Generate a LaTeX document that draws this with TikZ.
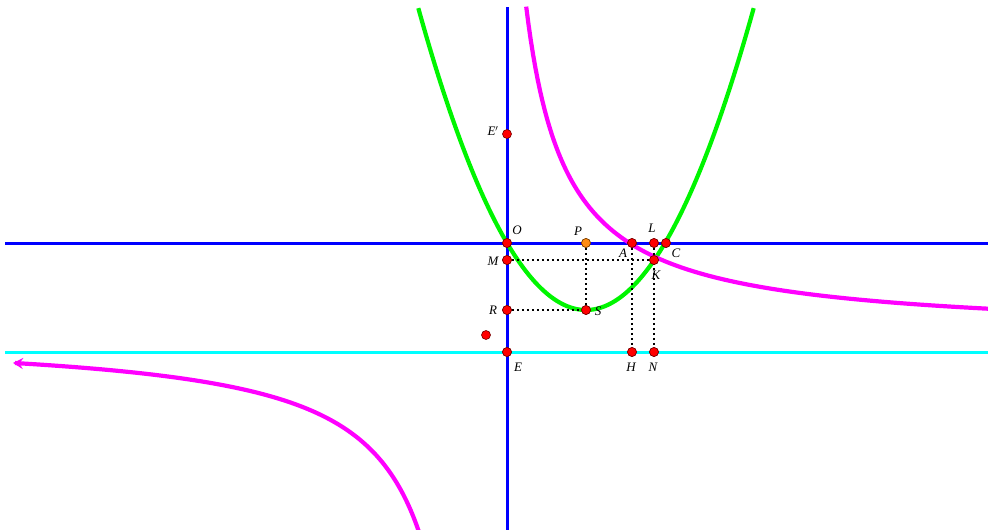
\documentclass[tikz,border=0pt]{standalone}
\usepackage{fontspec}
\setmainfont{Liberation Serif}
\usetikzlibrary{arrows.meta}
\begin{document}
\begin{tikzpicture}[x=1pt,y=-1pt,
  pt/.style={circle,fill=red,draw=red!45!black,line width=0.6pt,inner sep=0pt,minimum size=9pt},
  ptor/.style={pt,fill={rgb,255:red,255;green,140;blue,20},draw={rgb,255:red,120;green,60;blue,0}},
  lab/.style={font=\fontsize{13}{15}\selectfont\itshape,inner sep=1pt},
  axisline/.style={draw={rgb,255:red,0;green,0;blue,255},line width=3pt},
  cyanline/.style={draw={rgb,255:red,0;green,255;blue,255},line width=3pt},
  parab/.style={draw={rgb,255:red,0;green,245;blue,0},line width=4.2pt},
  hyper/.style={draw={rgb,255:red,255;green,0;blue,255},line width=4.2pt},
  guide/.style={draw=black,line width=2.2pt,dash pattern=on 2.2pt off 2.8pt}]
\useasboundingbox (0,0) rectangle (988,530);
\clip (0,0) rectangle (988,530);
% axes and line
\coordinate (xl) at (5,243);
\coordinate (xr) at (988,243);
\coordinate (yt) at (507,7);
\coordinate (yb) at (507,530);
\coordinate (cl) at (5,352);
\coordinate (cr) at (988,352);
\draw[axisline] (xl) -- (xr);
\draw[axisline] (yt) -- (yb);
\draw[cyanline] (cl) -- (cr);
% parabola
\draw[parab] plot[domain=418.3:753.7,samples=120] (\x,{310-1.0735*((\x-586)/10)^2});
% hyperbola branches
\draw[hyper] plot[domain=526.2:988,samples=200] (\x,{335-13200/(\x-486)});
\draw[hyper,{Stealth[length=10pt,width=11pt,inset=3.5pt]}-] plot[domain=13:419,samples=200] (\x,{335+13200/(486-\x)});
% points
\node[pt] (O) at (507,243) {};
\node[ptor] (P) at (586,243) {};
\node[pt] (A) at (632,243) {};
\node[pt] (L) at (654,243) {};
\node[pt] (C) at (666,243) {};
\node[pt] (M) at (507,260) {};
\node[pt] (K) at (654,260) {};
\node[pt] (R) at (507,310) {};
\node[pt] (S) at (586,310) {};
\node[pt] (E) at (507,352) {};
\node[pt] (H) at (632,352) {};
\node[pt] (N) at (654,352) {};
\node[pt] (Ep) at (507,134) {};
\node[pt] (Z) at (486,335) {};
% dotted guides
\draw[guide] (M) -- (K);
\draw[guide] (R) -- (S);
\draw[guide] (P) -- (S);
\draw[guide] (A) -- (H);
\draw[guide] (L) -- (N);
% redraw points on top
\foreach \n in {O,A,L,C,M,K,R,S,E,H,N}{\node[pt] at (\n) {};}
\node[ptor] at (P) {};
% labels
\node[lab] (lO) at (517,230) {O};
\node[lab] (lP) at (578,231) {P};
\node[lab] (lA) at (623,253) {A};
\node[lab] (lL) at (652,228) {L};
\node[lab] (lC) at (676,253) {C};
\node[lab] (lM) at (493,261) {M};
\node[lab] (lK) at (656,275) {K};
\node[lab] (lR) at (493,310) {R};
\node[lab] (lS) at (598,311) {S};
\node[lab] (lE) at (518,367) {E};
\node[lab] (lH) at (631,367) {H};
\node[lab] (lN) at (653,367) {N};
\node[lab] (lEp) at (493,131) {E$'$};
\end{tikzpicture}
\end{document}
